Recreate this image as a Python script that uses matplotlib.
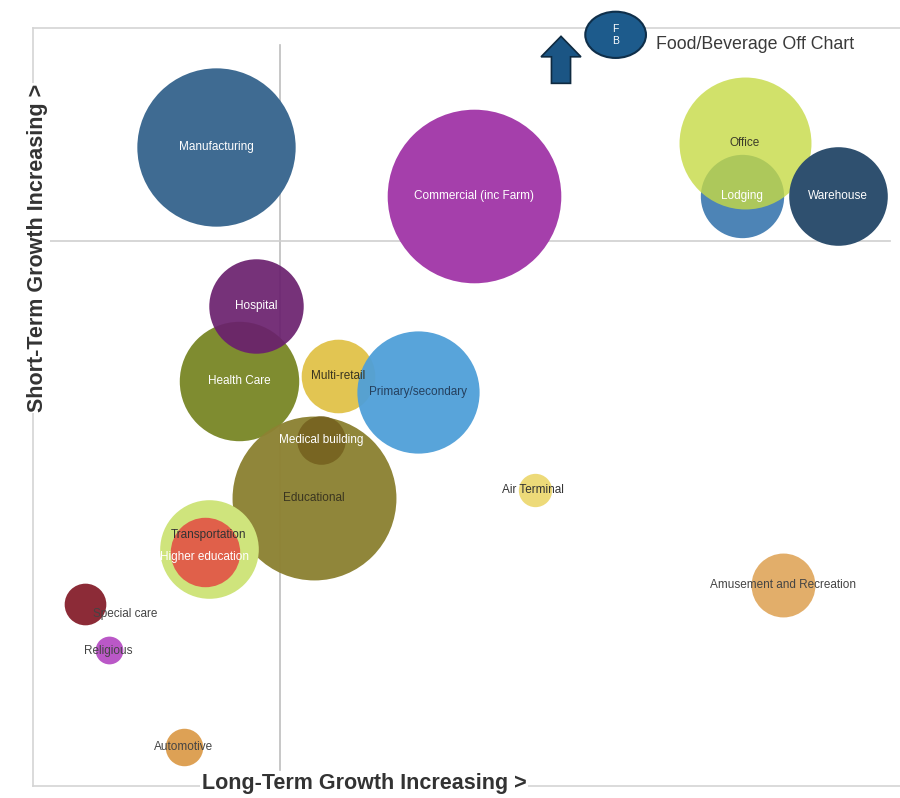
import matplotlib
matplotlib.use('Agg')
import matplotlib.pyplot as plt
from matplotlib.patches import Ellipse

plt.rcParams['font.family'] = ['Liberation Sans', 'DejaVu Sans']

# secteurs : croissance long terme (x), court terme (y), taille de bulle (diametre en pt)
sectors = ['Manufacturing', 'Commercial (inc Farm)', 'Lodging', 'Office', 'Warehouse',
           'Health Care', 'Hospital', 'Multi-retail', 'Primary/secondary', 'Educational',
           'Medical building', 'Air Terminal', 'Transportation', 'Higher education',
           'Amusement and Recreation', 'Special care', 'Religious', 'Automotive']
long_term = [21.1, 50.9, 81.8, 82.1, 92.8,
             23.8, 25.7, 35.2, 44.4, 32.4,
             33.2, 57.9, 20.3, 19.8,
             86.5, 6.0, 8.8, 17.4]
short_term = [84.3, 77.8, 77.8, 84.8, 77.8,
              53.4, 63.3, 54.1, 52.0, 38.0,
              45.6, 39.1, 31.3, 30.9,
              26.5, 24.0, 17.9, 5.1]
sizes = [114, 125, 60, 95, 71,
         86, 68, 53, 88, 118,
         35, 24, 71, 50,
         46, 30, 20, 27]
colors = ['#3f6b92', '#a53fab', '#4d84b6', '#c6da45', '#2f506f',
          '#7f8c30', '#6a206e', '#e2c552', '#4f9fd8', '#8d8233',
          '#74601e', '#ecd66a', '#cfe47c', '#e0604a',
          '#e1aa62', '#8c2b37', '#b74fc4', '#dc9c4c']
alphas = [1, 1, 1, 0.8, 1,
          1, 0.92, 1, 0.95, 0.97,
          0.85, 0.9, 1, 1,
          0.95, 1, 0.95, 0.95]

# etiquettes : position et couleur du texte
label_x = [21.1, 50.9, 81.8, 82.1, 92.8,
           23.8, 25.7, 35.2, 44.4, 32.4,
           33.2, 57.7, 20.3, 19.8,
           86.5, 10.6, 8.7, 17.4]
label_y = [84.3, 77.8, 77.8, 84.8, 77.8,
           53.4, 63.3, 54.1, 52.0, 38.0,
           45.6, 39.1, 33.1, 30.2,
           26.5, 22.7, 17.8, 5.1]
label_colors = ['white', 'white', 'white', '#3d3d2a', 'white',
                'white', 'white', '#3a3520', '#25405e', '#3a3520',
                'white', '#333333', '#333333', 'white',
                '#444444', '#444444', '#444444', '#444444']

# bulle hors graphique (Food/Beverage)
fb_x, fb_y = 67.2, 99.1
arrow_x, arrow_y0, arrow_y1 = 60.9, 92.7, 98.9

# quadrants
cross_x, cross_y = 28.5, 71.9

fig = plt.figure(figsize=(9, 7.98), dpi=100)
ax = fig.add_axes([33/900, 12/798, 867/900, 758/798])
ax.set_xlim(0, 100)
ax.set_ylim(0, 100)
ax.set_xticks([])
ax.set_yticks([])
ax.spines['right'].set_visible(False)
for side in ['left', 'top', 'bottom']:
    ax.spines[side].set_color('#d4d4d4')
    ax.spines[side].set_linewidth(1.2)

ax.plot([cross_x, cross_x], [2.1, 97.8], color='#bdbdbd', linewidth=1.2, zorder=0)
ax.plot([2.0, 98.8], [cross_y, cross_y], color='#cfcfcf', linewidth=1.2, zorder=0)

for i in range(len(sectors)):
    ax.scatter(long_term[i], short_term[i], s=sizes[i] ** 2, color=colors[i],
               alpha=alphas[i], linewidths=0, zorder=2 + i)

for i in range(len(sectors)):
    ax.text(label_x[i], label_y[i], sectors[i], color=label_colors[i],
            fontsize=8.5, ha='center', va='center', zorder=50)

# Food/Beverage hors graphique
fb = Ellipse((fb_x, fb_y), 7.0, 6.1, facecolor='#1d5b8c', edgecolor='#0f2f4a',
             linewidth=1.5, clip_on=False, zorder=40)
ax.add_patch(fb)
ax.text(fb_x, fb_y, 'F\nB', color='white', fontsize=7.5, ha='center', va='center',
        linespacing=1.3, clip_on=False, zorder=50)
ax.arrow(arrow_x, arrow_y0, 0, arrow_y1 - arrow_y0 - 2.7, width=2.2, head_width=4.6,
         head_length=2.7, length_includes_head=False, facecolor='#1b5584',
         edgecolor='#0f2a40', linewidth=1.2, clip_on=False, zorder=40)
ax.text(71.9, 97.8, 'Food/Beverage Off Chart', color='#3a3a3a', fontsize=12.8,
        ha='left', va='center', zorder=50)

fig.text(38/900, 1 - 248/798, 'Short-Term Growth Increasing >', rotation=90,
         fontsize=15.5, fontweight='bold', color='#333333', ha='center', va='center',
         bbox=dict(facecolor='white', edgecolor='none', pad=1))
fig.text(364/900, 1 - 783/798, 'Long-Term Growth Increasing >',
         fontsize=15.5, fontweight='bold', color='#333333', ha='center', va='center',
         bbox=dict(facecolor='white', edgecolor='none', pad=1))

plt.savefig('out.png', dpi=100)
